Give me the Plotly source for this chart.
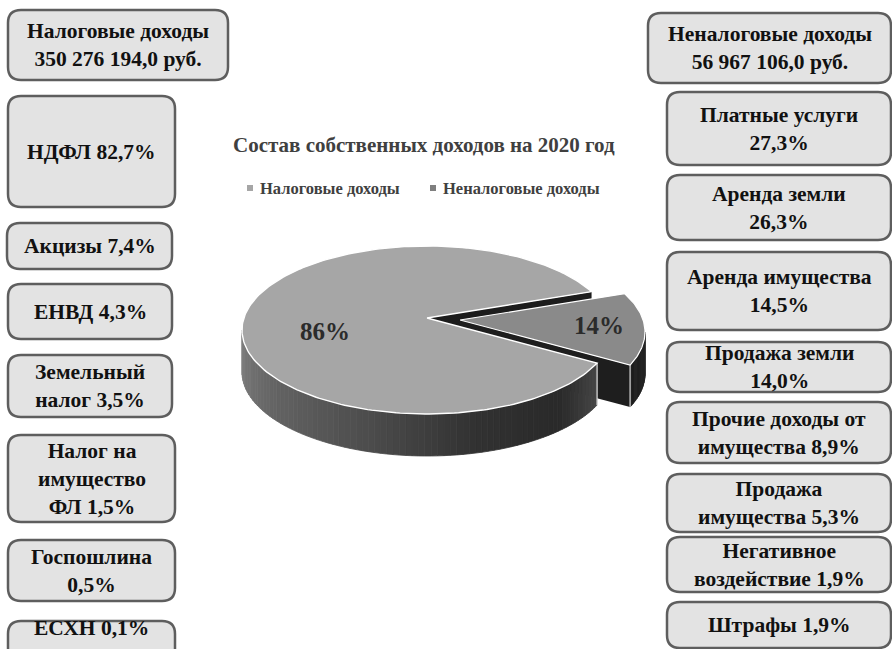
import numpy as np
import plotly.graph_objects as go

# ---------------- data ----------------
chart_title = "Состав собственных доходов на 2020 год"
revenue_groups = ["Налоговые доходы", "Неналоговые доходы"]
revenue_totals = [350276194.0, 56967106.0]

tax_items = ["НДФЛ", "Акцизы", "ЕНВД", "Земельный<br>налог", "Налог на<br>имущество<br>ФЛ",
             "Госпошлина", "ЕСХН"]
tax_shares = [82.7, 7.4, 4.3, 3.5, 1.5, 0.5, 0.1]

nontax_items = ["Платные услуги", "Аренда земли", "Аренда имущества", "Продажа земли",
                "Прочие доходы от<br>имущества", "Продажа<br>имущества",
                "Негативное<br>воздействие", "Штрафы"]
nontax_shares = [27.3, 26.3, 14.5, 14.0, 8.9, 5.3, 1.9, 1.9]

# ---------------- layout (pixels) ----------------
W, H = 892, 649
tax_header_box = (8, 10, 228, 80)
nontax_header_box = (648, 13, 891, 83)
tax_boxes = [(8, 96, 175, 207), (7, 223, 172, 269), (8, 284, 172, 339), (8, 355, 172, 417),
             (8, 435, 175, 522), (8, 540, 175, 601), (8, 621, 175, 672)]
tax_text_dy = [0, 0, 0, 0, 0, 0, -19]
tax_break = [False, False, False, False, False, True, False]
nontax_boxes = [(667, 92, 891, 165), (667, 175, 891, 240), (667, 252, 891, 330),
                (667, 342, 891, 392), (667, 402, 891, 463), (667, 474, 891, 532),
                (667, 537, 891, 592), (667, 602, 891, 648)]
nontax_break = [True, True, True, True, False, False, False, False]

FONT = "Liberation Serif"
BOX_FONT_SIZE = 21.5
BOX_FILL = "#e3e3e3"
BOX_LINE = "#5e5e5e"
slice_top_colors = ["#a6a6a6", "#8a8a8a"]
legend_colors = ["#a6a6a6", "#7f7f7f"]


def fmt_pct(v):
    return f"{v:.1f}".replace(".", ",") + "%"


def fmt_money(v):
    return f"{v:,.1f}".replace(",", " ").replace(".", ",") + " руб."


def rounded_path(x0, y0, x1, y1, r):
    return (f"M{x0+r},{y0} L{x1-r},{y0} Q{x1},{y0} {x1},{y0+r} L{x1},{y1-r} "
            f"Q{x1},{y1} {x1-r},{y1} L{x0+r},{y1} Q{x0},{y1} {x0},{y1-r} "
            f"L{x0},{y0+r} Q{x0},{y0} {x0+r},{y0} Z")


fig = go.Figure()
shapes = []
annotations = []


def add_box(box, text, dy=0, r=13):
    x0, y0, x1, y1 = box
    shapes.append(dict(type="path", path=rounded_path(x0, y0, x1, y1, r), xref="x", yref="y",
                       fillcolor=BOX_FILL, line=dict(color=BOX_LINE, width=2.5), layer="below"))
    annotations.append(dict(x=(x0 + x1) / 2, y=(y0 + y1) / 2 + dy, xref="x", yref="y",
                            text=text, showarrow=False, align="center",
                            font=dict(family=FONT, size=BOX_FONT_SIZE, color="#111111", weight="bold")))


# header boxes
add_box(tax_header_box, f"{revenue_groups[0]}<br>{fmt_money(revenue_totals[0])}")
add_box(nontax_header_box, f"{revenue_groups[1]}<br>{fmt_money(revenue_totals[1])}")
for item, share, box, brk, dy in zip(tax_items, tax_shares, tax_boxes, tax_break, tax_text_dy):
    add_box(box, item + ("<br>" if brk else " ") + fmt_pct(share), dy)
for item, share, box, brk in zip(nontax_items, nontax_shares, nontax_boxes, nontax_break):
    add_box(box, item + ("<br>" if brk else " ") + fmt_pct(share))

# ---------------- 3D pie ----------------
cx, cy, rx, ry = 427, 330, 185, 84
apex_up = 12
depth = 42
explode = (33, 2)
total = sum(revenue_totals)
fracs = [v / total for v in revenue_totals]
mid_small = -2.0
span_small = 360 * fracs[1]
s0 = mid_small - span_small / 2
s1 = mid_small + span_small / 2


def rim(t, dx=0.0, dy=0.0):
    t = np.radians(t)
    return cx + dx + rx * np.cos(t), cy + dy + ry * np.sin(t)


def apex(dx=0.0, dy=0.0):
    return cx + dx, cy - apex_up + dy


def poly(xs, ys, fill, line="rgba(0,0,0,0)", lw=0.0):
    fig.add_trace(go.Scatter(x=list(xs) + [xs[0]], y=list(ys) + [ys[0]], mode="lines",
                             fill="toself", fillcolor=fill, line=dict(color=line, width=lw),
                             hoverinfo="skip", showlegend=False))


def gray(v):
    v = int(max(0, min(255, v)))
    return f"rgb({v},{v},{v})"


side_stops_t = [0, 25, 45, 75, 110, 145, 180]
side_stops_v = [60, 70, 42, 50, 78, 100, 128]

# main slice radial face at s0 (visible through the gap)
ax, ay = apex()
px, py = rim(s0)
poly([ax, px, px, ax], [ay, py, py + depth, ay + depth], "#1c1c1c")

# small (exploded) slice
dx, dy = explode
sax, say = apex(dx, dy)
ts = np.linspace(max(0.0, s0), s1, 20)
for a, b in zip(ts[:-1], ts[1:]):
    x1_, y1_ = rim(a, dx, dy)
    x2_, y2_ = rim(b, dx, dy)
    c = gray(np.interp((a + b) / 2, [0, s1], [38, 30]))
    poly([x1_, x2_, x2_, x1_], [y1_, y2_, y2_ + depth, y1_ + depth], c, c, 0.8)
qx, qy = rim(s1, dx, dy)
poly([sax, qx, qx, sax], [say, qy, qy + depth, say + depth], "#1e1e1e")
fig.add_trace(go.Scatter(x=[qx, qx], y=[qy, qy + depth], mode="lines",
                         line=dict(color="white", width=1), hoverinfo="skip", showlegend=False))
tt = np.linspace(s0, s1, 60)
xs = [sax] + [rim(t, dx, dy)[0] for t in tt]
ys = [say] + [rim(t, dx, dy)[1] for t in tt]
poly(xs, ys, slice_top_colors[1], "white", 1.2)

# main slice outer side
ts = np.linspace(s1, 180, 80)
for a, b in zip(ts[:-1], ts[1:]):
    x1_, y1_ = rim(a)
    x2_, y2_ = rim(b)
    c = gray(np.interp((a + b) / 2, side_stops_t, side_stops_v))
    poly([x1_, x2_, x2_, x1_], [y1_, y2_, y2_ + depth, y1_ + depth], c, c, 0.8)
ex, ey = rim(s1)
fig.add_trace(go.Scatter(x=[ex, ex], y=[ey, ey + depth], mode="lines",
                         line=dict(color="white", width=1), hoverinfo="skip", showlegend=False))

# main slice top face
tt = np.linspace(s1, s0 + 360, 240)
xs = [ax] + [rim(t)[0] for t in tt]
ys = [ay] + [rim(t)[1] for t in tt]
poly(xs, ys, slice_top_colors[0], "white", 1.4)

# percentage labels
mid_main = (s1 + s0 + 360) / 2
lx, ly = cx + 0.55 * rx * np.cos(np.radians(mid_main)), cy + 0.55 * ry * np.sin(np.radians(mid_main))
annotations.append(dict(x=lx, y=ly, xref="x", yref="y", text=f"{round(fracs[0]*100)}%",
                        showarrow=False, font=dict(family=FONT, size=25, color="#2b2b2b", weight="bold")))
lx, ly = (cx + dx + 0.75 * rx * np.cos(np.radians(mid_small)),
          cy + dy + 0.75 * ry * np.sin(np.radians(mid_small)))
annotations.append(dict(x=lx, y=ly - 4, xref="x", yref="y", text=f"{round(fracs[1]*100)}%",
                        showarrow=False, font=dict(family=FONT, size=25, color="#2b2b2b", weight="bold")))

# title
annotations.append(dict(x=424, y=145, xref="x", yref="y", text=chart_title, showarrow=False,
                        font=dict(family=FONT, size=21, color="#404040", weight="bold")))

# legend (manual)
legend_x = [250, 433]
for lxp, name, col in zip(legend_x, revenue_groups, legend_colors):
    shapes.append(dict(type="rect", x0=lxp - 3, x1=lxp + 3, y0=185, y1=191, xref="x", yref="y",
                       fillcolor=col, line=dict(width=0)))
    annotations.append(dict(x=lxp + 8, y=188, xref="x", yref="y", text=name, showarrow=False,
                            xanchor="left", font=dict(family=FONT, size=16.5, color="#404040", weight="bold")))

fig.update_layout(
    width=W, height=H, margin=dict(l=0, r=0, t=0, b=0),
    paper_bgcolor="white", plot_bgcolor="white",
    xaxis=dict(range=[0, W], visible=False, fixedrange=True),
    yaxis=dict(range=[H, 0], visible=False, fixedrange=True),
    shapes=shapes, annotations=annotations, showlegend=False,
)

fig.write_html("out.html", config={"displayModeBar": False},
               post_script="document.body.style.margin='0';document.body.style.overflow='hidden';")
